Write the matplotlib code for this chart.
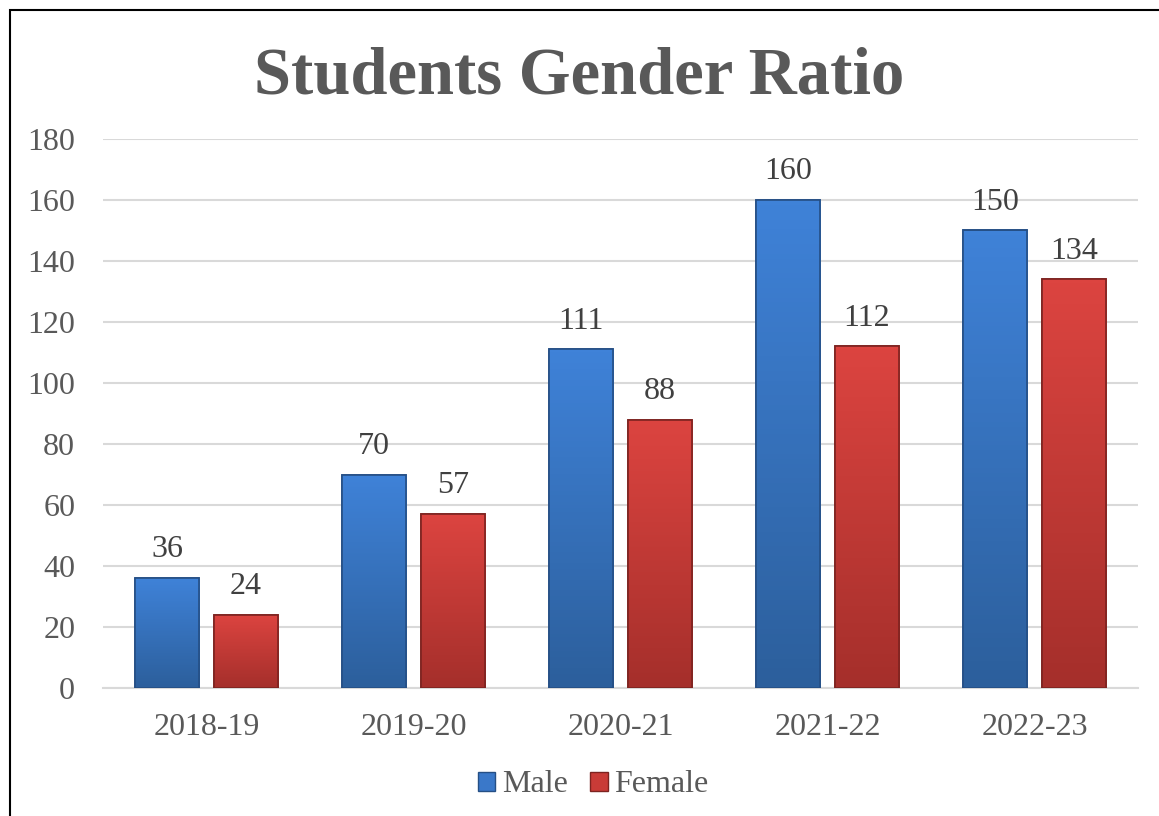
import matplotlib.pyplot as plt
import numpy as np
from matplotlib.patches import Rectangle, Patch

years = ['2018-19', '2019-20', '2020-21', '2021-22', '2022-23']
male = [36, 70, 111, 160, 150]
female = [24, 57, 88, 112, 134]

plt.rcParams['font.family'] = ['Liberation Serif', 'DejaVu Serif']
txt = '#595959'

fig = plt.figure(figsize=(11.59, 8.16), dpi=100)
ax = fig.add_axes([103 / 1159, 1 - 688 / 816, 1035 / 1159, 549 / 816])

x = np.arange(len(years))
w = 0.31
off = 0.19

def grad_bars(xs, vals, top, bot, edge):
    bars = ax.bar(xs, vals, width=w, color=top, edgecolor=edge, linewidth=1.2, zorder=3)
    cmap = plt.matplotlib.colors.LinearSegmentedColormap.from_list('g', [bot, top])
    for b in bars:
        x0, y0 = b.get_x(), b.get_y()
        im = ax.imshow(np.linspace(0, 1, 100).reshape(-1, 1), cmap=cmap, aspect='auto',
                       extent=[x0, x0 + b.get_width(), y0, y0 + b.get_height()],
                       origin='lower', zorder=3.5)
        im.set_clip_path(b)
        ax.add_patch(Rectangle((x0, y0), b.get_width(), b.get_height(), fill=False,
                               edgecolor=edge, linewidth=1.2, zorder=4))
    return bars

bm = grad_bars(x - off, male, '#3f82d8', '#2c5f9c', '#254f85')
bf = grad_bars(x + off, female, '#dc4440', '#a52f2b', '#7d2320')

for xi, v in zip(x - off, male):
    ax.text(xi, v + 4.5, str(v), ha='center', va='bottom', fontsize=23, color='#404040')
for xi, v in zip(x + off, female):
    ax.text(xi, v + 4.5, str(v), ha='center', va='bottom', fontsize=23, color='#404040')

ax.set_xlim(-0.5, 4.5)
ax.set_ylim(0, 180)
ax.set_yticks(range(0, 181, 20))
ax.set_xticks(x)
ax.set_xticklabels(years)
ax.tick_params(axis='both', length=0, labelsize=23, labelcolor=txt)
ax.tick_params(axis='y', pad=20)
ax.tick_params(axis='x', pad=18)
ax.grid(axis='y', color='#d9d9d9', linewidth=1.5, zorder=0)
for s in ['top', 'right', 'left']:
    ax.spines[s].set_visible(False)
ax.spines['bottom'].set_color('#d9d9d9')
ax.spines['bottom'].set_linewidth(1.5)

fig.text(0.5, 1 - 77 / 816, 'Students Gender Ratio', ha='center', va='center',
         fontsize=48, fontweight='bold', color=txt)

handles = [Patch(facecolor='#3a78c9', edgecolor='#254f85', label='Male'),
           Patch(facecolor='#c93b37', edgecolor='#7d2320', label='Female')]
fig.legend(handles=handles, loc='center', bbox_to_anchor=(593 / 1159, 1 - 785 / 816), ncol=2,
           frameon=False, fontsize=23, handlelength=0.55, handleheight=0.55,
           handletextpad=0.2, columnspacing=0.7, labelcolor=txt)

fig.patches.append(Rectangle((10 / 1159, -0.01), 1.02, 1 - 10 / 816 + 0.01, transform=fig.transFigure,
                             fill=False, edgecolor='black', linewidth=1.5))

fig.savefig('out.png', dpi=100)
